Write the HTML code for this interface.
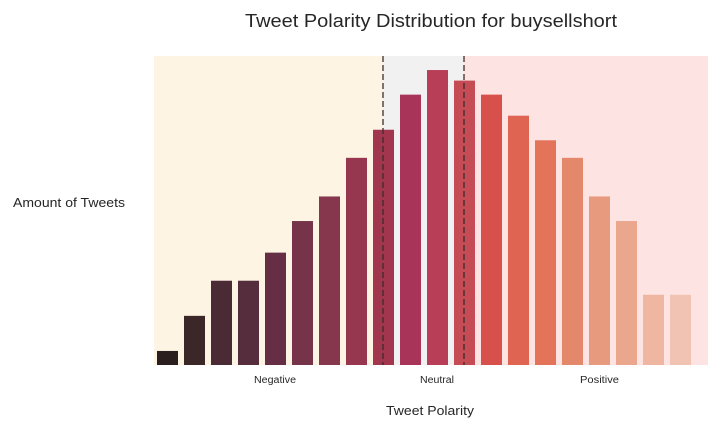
<!DOCTYPE html>
<html><head><meta charset="utf-8"><style>
body{margin:0;background:#fff;font-family:"Liberation Sans",sans-serif}
svg text{font-family:"Liberation Sans",sans-serif}
</style></head><body>
<svg id="chart" width="720" height="432" xmlns="http://www.w3.org/2000/svg">
<text x="245" y="27" font-size="18" textLength="372" lengthAdjust="spacingAndGlyphs" fill="#262626">Tweet Polarity Distribution for buysellshort</text>
<rect x="154" y="56" width="229" height="309" fill="#fdf4e3"/>
<rect x="383" y="56" width="81" height="309" fill="#f1f1f1"/>
<rect x="464" y="56" width="244" height="309" fill="#fee3e3"/>
<g id="bars"></g>
<line x1="383" y1="56" x2="383" y2="365" stroke="#3a2a2a" stroke-width="1.5" stroke-dasharray="6,3" opacity="0.85"/>
<line x1="464" y1="56" x2="464" y2="365" stroke="#3a2a2a" stroke-width="1.5" stroke-dasharray="6,3" opacity="0.85"/>
<text x="254" y="383" font-size="10" textLength="42" lengthAdjust="spacingAndGlyphs" fill="#262626">Negative</text>
<text x="420" y="383" font-size="10" textLength="34" lengthAdjust="spacingAndGlyphs" fill="#262626">Neutral</text>
<text x="580" y="383" font-size="10" textLength="39" lengthAdjust="spacingAndGlyphs" fill="#262626">Positive</text>
<text x="386" y="415" font-size="13" textLength="88" lengthAdjust="spacingAndGlyphs" fill="#262626">Tweet Polarity</text>
<text x="13" y="207" font-size="13" textLength="112" lengthAdjust="spacingAndGlyphs" fill="#262626">Amount of Tweets</text>
</svg>
<script>
const categories = ["1","2","3","4","5","6","7","8","9","10","11","12","13","14","15","16","17","18","19","20"];
const counts = [4,14,24,24,32,41,48,59,67,77,84,81,77,71,64,59,48,41,20,20];
const colors = ["#2a1e1e","#3b2628","#4a2a35","#552d3c","#652e44","#76344b","#86374e","#96374f","#a3364f","#a83459","#b83d57","#c54b55","#d8504c","#df6552","#e3745a","#e4886c","#e89a7e","#eba78e","#efb6a1","#f1c3b3"];
const yMax = 88;
const plotTop = 56, plotBottom = 365;
const x0 = 157, pitch = 27, bw = 21;
function xScale(i){ return x0 + i * pitch; }
function yScale(v){ return plotBottom - v / yMax * (plotBottom - plotTop); }
const g = document.getElementById('bars');
counts.forEach((v, i) => {
  const r = document.createElementNS('http://www.w3.org/2000/svg', 'rect');
  
  
  r.setAttribute('x', xScale(i));
  r.setAttribute('y', yScale(v));
  r.setAttribute('width', bw);
  r.setAttribute('height', plotBottom - yScale(v));
  r.setAttribute('fill', colors[i]);
  g.appendChild(r);
});
</script>
</body></html>
